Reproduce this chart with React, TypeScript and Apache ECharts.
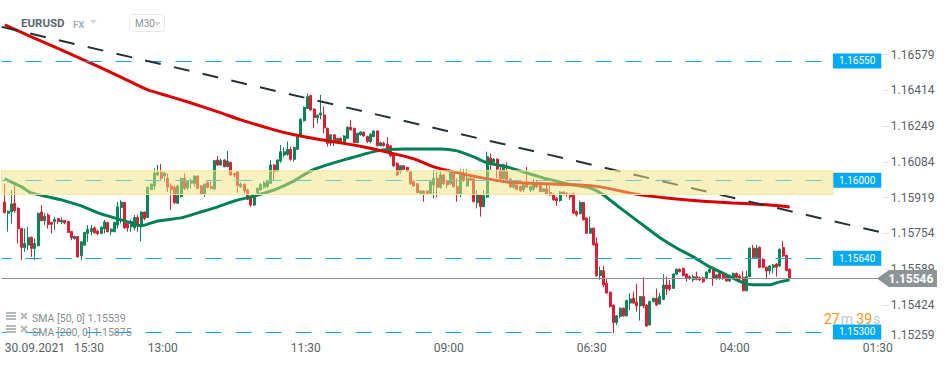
import React, { useEffect, useRef } from "react";
import * as echarts from "echarts";

const symbolName = "EURUSD";
const marketName = "FX";
const periodName = "M30";
const sma50Label = "SMA [50, 0] 1.15539";
const sma200Label = "SMA [200, 0] 1.15875";
const timerMinutes = "27";
const timerSeconds = "39";

// price = 1 + value / 100000
const toPrice = (v: number) => 1 + v / 100000;
const priceTicks = [15259, 15424, 15589, 15754, 15919, 16084, 16249, 16414, 16579];
const priceLevels = [16550, 16000, 15640, 15300];
const lastPrice = 15546;
const zoneBounds = [16043, 15934];
const xTicks: [number, string][] = [
  [1, "30.09.2021   15:30"], [44, "13:00"], [87, "11:30"], [130, "09:00"], [173, "06:30"], [216, "04:00"], [259, "01:30"],
];
const slotCount = 266;
const zoneEndSlot = 250;
const trendPoints = [[0, 16707], [264, 15761]];

const sma50: [number, number][] = [
  [1,16006],[6,15969],[9,15941],[14,15923],[18,15909],[24,15881],[29,15849],[34,15826],[39,15803],[42,15789],[47,15812],
  [54,15826],[59,15849],[65,15877],[70,15904],[76,15927],[82,15955],[88,15997],[93,16043],[97,16066],[104,16098],[113,16135],
  [121,16144],[132,16144],[137,16135],[142,16107],[146,16080],[152,16061],[158,16033],[164,16006],[172,15978],[177,15964],
  [181,15932],[186,15872],[192,15803],[198,15734],[203,15687],[208,15646],[213,15600],[218,15563],[223,15526],[226,15517],
  [231,15517],[234,15531],[237,15540],
];
const sma200: [number, number][] = [
  [1,16716],[9,16661],[18,16601],[24,16559],[30,16518],[37,16467],[44,16416],[50,16389],[57,16356],[66,16310],[72,16278],
  [82,16232],[88,16209],[96,16186],[102,16172],[109,16153],[117,16126],[124,16098],[130,16061],[136,16038],[143,16015],
  [152,15992],[164,15983],[174,15978],[180,15969],[192,15932],[200,15918],[210,15904],[220,15895],[230,15886],[237,15876],
];

// open, close, low, high
const candles: number[][] = [
  [15899,15850,15847,15982],[15847,15857,15762,15860],[15854,15890,15800,15954],[15893,15859,15850,15977],[15870,15776,15708,15875],
  [15777,15690,15631,15780],[15688,15708,15670,15777],[15700,15736,15677,15785],[15736,15685,15646,15740],[15685,15708,15631,15731],
  [15697,15847,15695,15850],[15853,15813,15810,15885],[15813,15834,15793,15847],[15839,15796,15777,15847],[15805,15796,15754,15808],
  [15808,15819,15770,15831],[15823,15808,15797,15826],[15807,15816,15797,15828],[15814,15803,15796,15816],[15810,15759,15757,15812],
  [15763,15734,15723,15765],[15730,15740,15726,15744],[15740,15646,15644,15742],[15651,15716,15631,15719],[15700,15759,15698,15761],
  [15754,15773,15716,15793],[15762,15777,15746,15793],[15780,15757,15752,15786],[15765,15754,15746,15771],[15754,15782,15751,15788],
  [15776,15807,15754,15816],[15805,15762,15760,15808],[15763,15774,15746,15778],[15762,15805,15760,15808],[15793,15877,15777,15900],
  [15874,15899,15800,15908],[15897,15780,15775,15900],[15800,15780,15762,15810],[15785,15808,15762,15818],[15780,15828,15768,15839],
  [15828,15797,15762,15839],[15793,15853,15719,15856],[15853,15823,15815,15855],[15828,15967,15826,15970],[15957,15982,15955,15984],
  [15973,16031,15954,16054],[16024,16035,16020,16070],
  [16036,16008,16001,16075],[16019,16032,15993,16039],[16008,15967,15947,16031],[15973,15958,15862,15985],[15967,15896,15890,15978],
  [15893,15973,15890,15980],[15924,16008,15920,16012],[16008,15962,15955,16031],[15965,15993,15955,16000],[15986,15998,15962,16008],
  [15985,16019,15970,16022],[16019,15962,15958,16022],[15973,15936,15933,15977],[15936,15981,15924,15985],[15990,15965,15962,15994],
  [15970,15961,15958,15993],[15959,16090,15957,16094],[16093,16070,16066,16111],[16070,16090,16067,16098],[16093,16062,16060,16096],
  [16062,16088,16060,16134],[16082,16024,16020,16085],[16031,16024,16012,16034],[16039,15975,15942,16042],[15970,15982,15965,15990],
  [15981,15951,15940,15985],[15955,15912,15908,15960],[15921,15885,15877,15925],[15885,15921,15882,15925],[15942,15962,15938,15966],
  [15955,15981,15952,15985],[15967,15988,15960,15995],[15970,15993,15965,16000],[15985,16070,15982,16093],[16070,16039,16001,16074],
  [16042,16093,16040,16096],[16088,16131,16080,16162],[16116,16131,16105,16152],[16119,16142,16112,16178],[16142,16096,16090,16155],
  [16096,16151,16085,16155],[16142,16201,16139,16204],[16201,16281,16198,16285],[16274,16336,16270,16340],[16331,16385,16328,16400],
  [16390,16324,16320,16394],[16328,16288,16239,16332],[16288,16300,16262,16303],
  [16301,16310,16280,16393],[16301,16241,16215,16340],[16239,16170,16155,16242],[16170,16209,16157,16212],[16209,16178,16158,16212],
  [16181,16193,16175,16196],[16193,16175,16170,16197],[16173,16204,16165,16208],[16193,16244,16190,16248],[16244,16232,16228,16278],
  [16239,16173,16170,16242],[16173,16216,16170,16219],[16209,16222,16205,16226],[16221,16204,16200,16224],[16201,16178,16172,16205],
  [16178,16212,16170,16215],[16201,16227,16198,16230],[16227,16159,16155,16230],[16159,16173,16155,16178],[16170,16159,16155,16178],
  [16166,16147,16140,16198],[16158,16112,16105,16162],[16116,16066,16060,16120],[16078,16024,16018,16082],[16042,16066,16030,16070],
  [16066,16050,16045,16070],[16059,16042,16038,16062],[16039,15983,15980,16042],[15993,15973,15970,15998],[15983,15943,15940,15986],
  [15939,15950,15935,15955],[15950,15939,15901,15953],[15950,15939,15936,15953],[15939,15993,15936,15997],[15978,16009,15916,16047],
  [16009,15967,15921,16040],[15967,16024,15960,16040],[16024,15983,15978,16028],[15998,15978,15962,16002],[15983,16035,15978,16038],
  [16035,15970,15966,16040],[15970,15936,15901,16008],[15936,16024,15921,16050],[16029,15998,15992,16050],[15973,16009,15968,16050],
  [16009,16000,15996,16013],[16006,15901,15897,16010],[15896,15932,15870,15955],[15932,15878,15832,15936],
  [15878,15929,15875,15955],[15922,16109,15918,16132],[16102,16078,16048,16122],[16082,16097,16078,16102],[16097,16051,16010,16100],
  [16045,16006,16002,16071],[16006,16071,16002,16075],[16040,16002,15998,16082],[16005,15968,15964,16009],[15968,15983,15960,15987],
  [15978,15958,15952,15982],[15971,15952,15945,15975],[15955,15978,15945,15985],[15986,15968,15964,16060],[15955,15971,15945,15975],
  [15958,15986,15950,16005],[15986,15968,15964,16002],[15986,15948,15945,15990],[15948,15960,15944,15964],[15960,15937,15930,15985],
  [15943,15932,15928,15974],[15935,15909,15905,15940],[15917,15906,15882,15921],[15906,15945,15900,15949],[15945,15935,15930,15950],
  [15940,15935,15925,15945],[15935,15922,15910,15940],[15937,15848,15844,15942],[15855,15840,15832,15860],[15845,15897,15842,15906],
  [15897,15817,15814,15900],[15825,15755,15752,15830],[15755,15778,15752,15832],[15778,15702,15697,15782],[15709,15559,15555,15737],
  [15559,15583,15540,15602],[15582,15517,15506,15605],[15525,15479,15476,15543],[15483,15417,15412,15487],[15423,15343,15294,15427],
  [15343,15374,15332,15378],[15371,15409,15363,15413],[15409,15374,15370,15413],[15374,15445,15370,15448],[15433,15452,15400,15478],
  [15456,15433,15429,15486],[15437,15420,15393,15522],[15420,15463,15352,15466],
  [15463,15420,15410,15552],[15424,15327,15323,15428],[15332,15440,15329,15444],[15440,15455,15436,15459],[15455,15424,15420,15500],
  [15429,15463,15426,15480],[15450,15516,15446,15566],[15516,15498,15470,15555],[15516,15498,15490,15540],[15501,15567,15498,15571],
  [15566,15589,15562,15593],[15589,15578,15574,15593],[15593,15560,15556,15597],[15567,15547,15532,15571],[15555,15547,15540,15560],
  [15540,15555,15530,15565],[15555,15543,15538,15578],[15550,15540,15535,15555],[15550,15532,15525,15555],[15547,15575,15542,15580],
  [15575,15589,15570,15593],[15589,15547,15512,15592],[15547,15563,15540,15567],[15570,15547,15540,15575],[15562,15547,15540,15568],
  [15555,15535,15530,15560],[15535,15555,15530,15560],[15547,15570,15542,15574],[15570,15552,15548,15574],[15558,15544,15538,15566],
  [15552,15490,15487,15580],[15490,15555,15487,15582],[15555,15686,15552,15690],[15686,15644,15640,15701],[15644,15686,15640,15701],
  [15690,15598,15594,15694],[15635,15598,15594,15640],[15598,15581,15547,15602],[15581,15604,15565,15608],[15598,15609,15570,15613],
  [15613,15598,15555,15617],[15604,15681,15600,15685],[15689,15650,15645,15718],[15653,15583,15579,15657],[15589,15546,15543,15593],
];

const GREY_ICON = "#b5b9bc";

function layerIcon(y: number) {
  return [
    { type: "rect", z: 100, shape: { x: 6, y, width: 10, height: 2 }, style: { fill: GREY_ICON } },
    { type: "rect", z: 100, shape: { x: 6, y: y + 3, width: 10, height: 2 }, style: { fill: GREY_ICON } },
    { type: "rect", z: 100, shape: { x: 6, y: y + 6, width: 10, height: 2 }, style: { fill: GREY_ICON } },
    { type: "line", z: 100, shape: { x1: 21, y1: y + 1, x2: 27, y2: y + 7 }, style: { stroke: GREY_ICON, lineWidth: 2 } },
    { type: "line", z: 100, shape: { x1: 27, y1: y + 1, x2: 21, y2: y + 7 }, style: { stroke: GREY_ICON, lineWidth: 2 } },
  ];
}

export default function App() {
  const ref = useRef<HTMLDivElement>(null);
  useEffect(() => {
    const chart = echarts.init(ref.current!, undefined, { renderer: "svg" });
    const labels = new Array(slotCount).fill("");
    xTicks.forEach(([i, t]) => (labels[i] = t));
    const showTick = (index: number) => labels[index] !== "";
    const blue = "#03a9f4";
    chart.setOption({
      animation: false,
      textStyle: { fontFamily: "Roboto" },
      grid: { left: 1.5, top: 0, width: 3.3256 * (slotCount - 1), height: 340.8 },
      xAxis: {
        type: "category",
        data: labels,
        boundaryGap: false,
        axisLine: { show: false },
        axisTick: { show: true, interval: showTick, length: 3, lineStyle: { color: "#e4e4e4" } },
        axisLabel: { show: true, interval: showTick, align: "left", margin: 1, fontSize: 12, color: "#5a6268", fontFamily: "Roboto" },
        splitLine: { show: false },
      },
      yAxis: {
        type: "value",
        position: "right",
        min: toPrice(15259),
        max: toPrice(15259) + 340.8 / 21680,
        axisLine: { show: false },
        splitLine: { show: false },
        axisTick: { show: true, length: 6, lineStyle: { color: "#e4e4e4" }, customValues: priceTicks.map(toPrice) },
        axisLabel: {
          show: true,
          customValues: priceTicks.map(toPrice),
          formatter: (v: number) => v.toFixed(5),
          margin: 8,
          fontSize: 12,
          color: "#5a6268",
          fontFamily: "Roboto",
          verticalAlignMinLabel: "bottom",
        },
      },
      graphic: [
        { type: "text", z: 100, x: 21, y: 17, style: { text: symbolName, font: "bold 11.5px Roboto", fill: "#5b6770" } },
        { type: "text", z: 100, x: 73, y: 19, style: { text: marketName, font: "bold 9.5px Roboto", fill: "#a3b2ba" } },
        { type: "polygon", z: 100, shape: { points: [[90, 20], [97, 20], [93.5, 24]] }, style: { fill: "#d3d5d7" } },
        { type: "rect", z: 100, shape: { x: 129.5, y: 14.5, width: 35, height: 17, r: 3 }, style: { fill: "#fff", stroke: "#e8e9ea" } },
        { type: "text", z: 101, x: 135, y: 18, style: { text: periodName, font: "10px Roboto", fill: "#8c9499" } },
        { type: "polygon", z: 101, shape: { points: [[154, 22], [161, 22], [157.5, 26]] }, style: { fill: "#d3d5d7" } },
        ...layerIcon(312),
        ...layerIcon(325),
        { type: "text", z: 100, x: 32, y: 313, style: { text: sma50Label, font: "10.5px Roboto", fill: "#868c91" } },
        { type: "text", z: 100, x: 32, y: 327, style: { text: sma200Label, font: "10.5px Roboto", fill: "#868c91" } },
        {
          type: "text", z: 100, x: 824, y: 312,
          style: {
            text: `{o|${timerMinutes}}{g|m} {o|${timerSeconds}}{g|s}`,
            rich: {
              o: { fill: "#f7941d", font: "14px Roboto" },
              g: { fill: "#c3c7ca", font: "14px Roboto", padding: [0, 0, 0, 1] },
            },
          },
        },
      ],
      series: [
        {
          type: "candlestick",
          z: 2,
          barWidth: 2.5,
          encode: { x: 0, y: [1, 2, 3, 4] },
          data: candles.map((c, i) => [i + 1, toPrice(c[0]), toPrice(c[1]), toPrice(c[2]), toPrice(c[3])]),
          itemStyle: { color: "#0b8457", color0: "#dc1e35", borderColor: "#0b8457", borderColor0: "#dc1e35", borderWidth: 1 },
        },
        {
          type: "line", z: 3, smooth: 0.2, showSymbol: false, silent: true,
          data: sma50.map(([i, v]) => [i, toPrice(v)]),
          lineStyle: { color: "#008055", width: 3 },
        },
        {
          type: "line", z: 3, smooth: 0.2, showSymbol: false, silent: true,
          data: sma200.map(([i, v]) => [i, toPrice(v)]),
          lineStyle: { color: "#dc0000", width: 3 },
        },
        ...priceLevels.map((v) => ({
          type: "line", z: 3, silent: true, data: [],
          itemStyle: { color: blue },
          markLine: {
            z: 5, silent: true, symbol: "none", animation: false,
            lineStyle: { color: blue, width: 1, type: [16, 14], dashOffset: 6, opacity: 1 },
            label: {
              position: "end", distance: 0, color: "#fff", fontSize: 10, fontFamily: "Roboto",
              backgroundColor: blue, padding: [3, 6, 2, 6], lineHeight: 10,
              formatter: (p: any) => Number(p.value).toFixed(5),
            },
            data: [[
              { xAxis: 0, yAxis: toPrice(v), lineStyle: { color: blue } },
              { xAxis: zoneEndSlot, yAxis: toPrice(v), value: toPrice(v) },
            ]],
          },
        })),
        {
          type: "line", z: 3, silent: true, data: [],
          markLine: {
            z: 5, silent: true, symbol: "none", animation: false,
            lineStyle: { color: "#263238", width: 2, type: [16, 13.5] },
            label: { show: false },
            data: [[
              { coord: [trendPoints[0][0], toPrice(trendPoints[0][1])] },
              { coord: [trendPoints[1][0], toPrice(trendPoints[1][1])] },
            ]],
          },
        },
        {
          type: "line", z: 4, silent: true, data: [],
          markArea: {
            z: 10,
            silent: true,
            itemStyle: { color: "rgba(239,229,123,0.5)", borderColor: "#f3e99c", borderWidth: 1 },
            label: { show: false },
            data: [[
              { xAxis: 0, yAxis: toPrice(zoneBounds[0]) },
              { xAxis: zoneEndSlot, yAxis: toPrice(zoneBounds[1]) },
            ]],
          },
        },
        {
          type: "line", z: 5, silent: true, data: [],
          markLine: {
            z: 11, silent: true, symbol: "none",
            lineStyle: { color: "#8c9498", width: 1, type: "solid" },
            label: { show: false },
            data: [[{ xAxis: 0, yAxis: toPrice(lastPrice) }, { xAxis: 264, yAxis: toPrice(lastPrice) }]],
          },
          markPoint: {
            z: 12,
            silent: true,
            symbol: "path://M0,8.5 L12,0 L60,0 L60,17 L12,17 Z",
            symbolSize: [60, 17],
            symbolKeepAspect: false,
            symbolOffset: [27.5, 0],
            itemStyle: { color: "#8c9498" },
            label: {
              position: "inside", offset: [4, 0], color: "#fff", fontWeight: "bold", fontSize: 12, fontFamily: "Roboto",
              formatter: () => toPrice(lastPrice).toFixed(5),
            },
            data: [{ coord: [264, toPrice(lastPrice)] }],
          },
        },
      ],
    });
    return () => chart.dispose();
  }, []);
  return <div ref={ref} style={{ position: "absolute", left: 0, top: 0, width: 950, height: 365 }} />;
}
